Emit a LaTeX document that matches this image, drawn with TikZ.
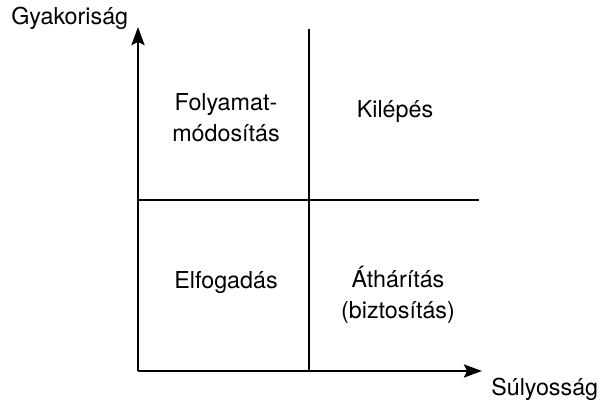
\documentclass[tikz,border=0pt]{standalone}
\usepackage{fontspec}
\setmainfont{TeX Gyre Heros}
\usetikzlibrary{arrows.meta,positioning}

\begin{document}
\begin{tikzpicture}[x=1pt,y=-1pt,line width=2.5pt,
        lbl/.style={font=\fontsize{23.3}{31}\selectfont, inner sep=0pt, align=center},
        axis/.style={-{Stealth[length=18pt,width=13pt,inset=3pt]}}]
        \useasboundingbox (0,0) rectangle (600,404);
        % axes
        \coordinate (o_0) at (138,371);
        \coordinate (y_1) at (138,27);
        \coordinate (x_1) at (482,371);
        % dividers
        \coordinate (v_0) at (309,371);
        \coordinate (v_1) at (309,29);
        \coordinate (h_0) at (138,200);
        \coordinate (h_1) at (479,200);
        \draw[axis] (o_0) -- (y_1);
        \draw[axis] (o_0) -- (x_1);
        \draw (v_0) -- (v_1);
        \draw (h_0) -- (h_1);
        % axis labels
        \node[lbl, anchor=base west] (freq) at (10,25) {Gyakoriság};
        \node[lbl, anchor=base west] (sev) at (490,395) {Súlyosság};
        % quadrants
        \node[lbl] (q_1) at (226,118) {Folyamat-\\módosítás};
        \node[lbl] (q_2) at (395,112) {Kilépés};
        \node[lbl] (q_3) at (226,283) {Elfogadás};
        \node[lbl] (q_4) at (398,295) {Áthárítás\\(biztosítás)};
    \end{tikzpicture}
\end{document}
